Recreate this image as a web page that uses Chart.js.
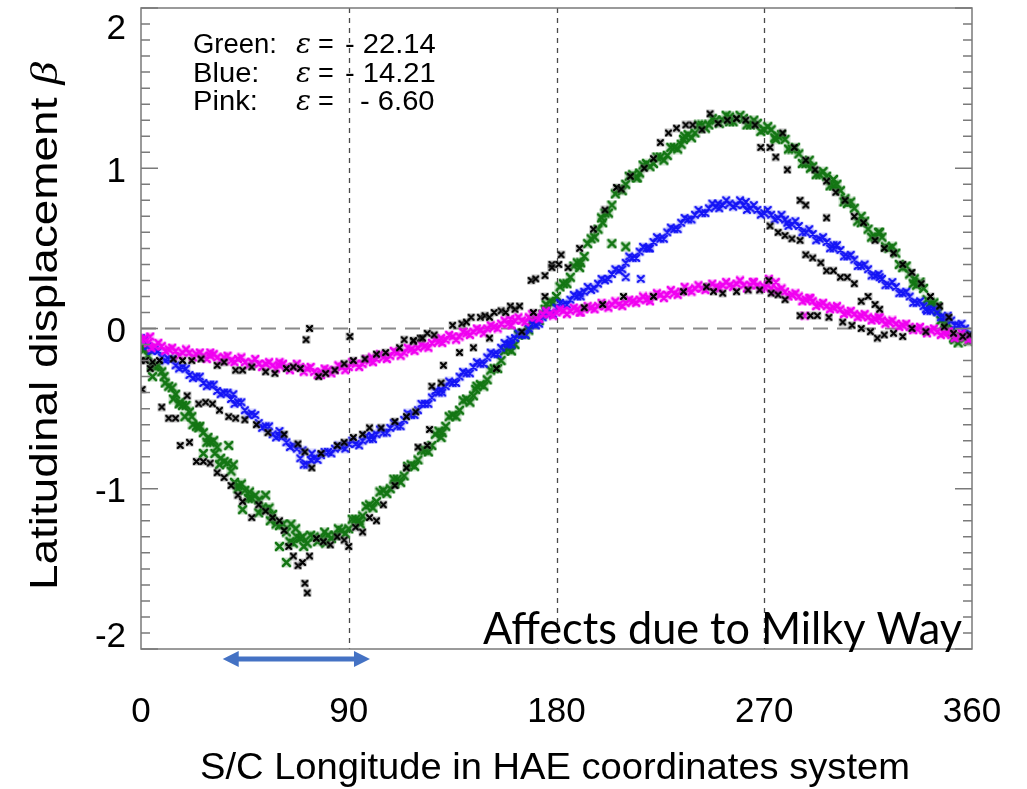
<!DOCTYPE html>
<html>
<head>
<meta charset="utf-8">
<script src="https://cdn.jsdelivr.net/npm/chart.js@4.4.0/dist/chart.umd.min.js"></script>
<style>
  html, body { margin: 0; padding: 0; background: #fff; overflow: hidden; }
  canvas { display: block; }
</style>
</head>
<body>
<canvas id="chart" width="1027" height="789"></canvas>
<script>
// longitude samples shared by the three coloured series (deg)
const lonGrid = [0,3,6,9,12,15,18,21,24,27,30,33,36,39,42,45,48,51,54,57,60,63,66,69,72,75,78,81,84,87,
  90,93,96,99,102,105,108,111,114,117,120,123,126,129,132,135,138,141,144,147,150,153,156,159,162,165,168,171,174,177,
  180,183,186,189,192,195,198,201,204,207,210,213,216,219,222,225,228,231,234,237,240,243,246,249,252,255,258,261,264,267,
  270,273,276,279,282,285,288,291,294,297,300,303,306,309,312,315,318,321,324,327,330,333,336,339,342,345,348,351,354,357,360];

const greenLat = [-0.12,-0.17,-0.24,-0.27,-0.36,-0.41,-0.48,-0.52,-0.61,-0.65,
  -0.71,-0.74,-0.83,-0.89,-0.98,-1.01,-1.06,-1.07,-1.13,-1.16,
  -1.23,-1.27,-1.34,-1.31,-1.34,-1.30,-1.31,-1.29,-1.29,-1.26,
  -1.25,-1.19,-1.17,-1.10,-1.08,-1.01,-1.00,-0.94,-0.92,-0.85,
  -0.82,-0.76,-0.73,-0.64,-0.61,-0.54,-0.51,-0.44,-0.42,-0.35,
  -0.32,-0.25,-0.20,-0.13,-0.10,-0.03,-0.01,0.06,0.09,0.17,
  0.20,0.28,0.32,0.41,0.45,0.56,0.62,0.72,0.77,0.87,
  0.90,0.96,0.97,1.03,1.03,1.07,1.08,1.13,1.15,1.21,
  1.22,1.27,1.27,1.30,1.30,1.32,1.31,1.31,1.27,1.28,
  1.24,1.24,1.20,1.18,1.12,1.09,1.03,1.01,0.96,0.95,
  0.89,0.86,0.78,0.75,0.66,0.62,0.57,0.57,0.50,0.47,
  0.38,0.34,0.27,0.25,0.16,0.11,0.03,-0.02,-0.09,-0.06,
  -0.05];

const blueLat = [-0.06,-0.11,-0.13,-0.18,-0.19,-0.23,-0.24,-0.29,-0.30,-0.34,
  -0.35,-0.39,-0.40,-0.44,-0.46,-0.51,-0.53,-0.59,-0.61,-0.66,
  -0.67,-0.71,-0.73,-0.81,-0.85,-0.81,-0.79,-0.77,-0.75,-0.74,
  -0.72,-0.72,-0.70,-0.69,-0.66,-0.65,-0.62,-0.61,-0.57,-0.54,
  -0.51,-0.47,-0.43,-0.40,-0.36,-0.34,-0.30,-0.28,-0.24,-0.22,
  -0.18,-0.16,-0.12,-0.10,-0.06,-0.04,0.00,0.02,0.07,0.09,
  0.13,0.15,0.18,0.20,0.23,0.24,0.28,0.30,0.34,0.36,
  0.41,0.44,0.48,0.50,0.54,0.56,0.60,0.62,0.66,0.68,
  0.71,0.72,0.75,0.76,0.77,0.78,0.77,0.77,0.75,0.74,
  0.72,0.71,0.69,0.68,0.65,0.64,0.60,0.59,0.56,0.54,
  0.50,0.49,0.45,0.43,0.39,0.37,0.33,0.31,0.27,0.26,
  0.22,0.20,0.16,0.14,0.11,0.10,0.07,0.05,0.02,0.00,
  -0.04];

const pinkLat = [-0.07,-0.09,-0.11,-0.11,-0.13,-0.14,-0.15,-0.15,-0.16,-0.17,
  -0.17,-0.18,-0.18,-0.20,-0.19,-0.21,-0.21,-0.22,-0.22,-0.23,
  -0.23,-0.24,-0.24,-0.24,-0.25,-0.27,-0.27,-0.26,-0.26,-0.24,
  -0.24,-0.22,-0.22,-0.20,-0.19,-0.18,-0.17,-0.15,-0.15,-0.13,
  -0.12,-0.11,-0.09,-0.08,-0.07,-0.05,-0.05,-0.03,-0.02,-0.01,
  0.00,0.01,0.03,0.03,0.05,0.05,0.07,0.07,0.09,0.09,
  0.10,0.11,0.11,0.12,0.12,0.13,0.14,0.14,0.15,0.15,
  0.16,0.17,0.18,0.18,0.20,0.21,0.21,0.22,0.23,0.24,
  0.25,0.25,0.26,0.26,0.27,0.27,0.28,0.27,0.27,0.27,
  0.26,0.25,0.24,0.23,0.21,0.20,0.18,0.17,0.15,0.14,
  0.13,0.12,0.10,0.09,0.08,0.07,0.06,0.05,0.04,0.03,
  0.02,0.01,0.00,-0.01,-0.01,-0.02,-0.03,-0.04,-0.05,-0.05,
  -0.06];

// second pass of samples along each band [lon, lat]
const greenBand = [[1.5,-0.13],[4.5,-0.23],[7.5,-0.23],[10.5,-0.34],[13.5,-0.37],[16.5,-0.47],[19.5,-0.48],[22.5,-0.60],
  [25.5,-0.61],[28.5,-0.71],[31.5,-0.70],[34.5,-0.81],[37.5,-0.84],[40.5,-0.96],[43.5,-0.97],[46.5,-1.06],[49.5,-1.04],
  [52.5,-1.12],[55.5,-1.12],[58.5,-1.22],[61.5,-1.22],[64.5,-1.33],[67.5,-1.30],[70.5,-1.36],[73.5,-1.29],[76.5,-1.33],
  [79.5,-1.27],[82.5,-1.31],[85.5,-1.25],[88.5,-1.28],[91.5,-1.19],[94.5,-1.20],[97.5,-1.11],[100.5,-1.12],[103.5,-1.02],
  [106.5,-1.03],[109.5,-0.94],[112.5,-0.96],[115.5,-0.86],[118.5,-0.86],[121.5,-0.76],[124.5,-0.77],[127.5,-0.66],
  [130.5,-0.65],[133.5,-0.55],[136.5,-0.55],[139.5,-0.45],[142.5,-0.46],[145.5,-0.36],[148.5,-0.36],[151.5,-0.26],
  [154.5,-0.25],[157.5,-0.14],[160.5,-0.14],[163.5,-0.04],[166.5,-0.04],[169.5,0.05],[172.5,0.05],[175.5,0.15],
  [178.5,0.16],[181.5,0.26],[184.5,0.28],[187.5,0.39],[190.5,0.41],[193.5,0.53],[196.5,0.57],[199.5,0.69],[202.5,0.72],
  [205.5,0.84],[208.5,0.86],[211.5,0.95],[214.5,0.94],[217.5,1.02],[220.5,1.01],[223.5,1.07],[226.5,1.05],[229.5,1.13],
  [232.5,1.12],[235.5,1.20],[238.5,1.19],[241.5,1.27],[244.5,1.25],[247.5,1.31],[250.5,1.28],[253.5,1.33],[256.5,1.29],
  [259.5,1.33],[262.5,1.27],[265.5,1.30],[268.5,1.23],[271.5,1.26],[274.5,1.19],[277.5,1.21],[280.5,1.12],[283.5,1.13],
  [286.5,1.03],[289.5,1.05],[292.5,0.96],[295.5,0.98],[298.5,0.89],[301.5,0.90],[304.5,0.79],[307.5,0.79],[310.5,0.67],
  [313.5,0.67],[316.5,0.57],[319.5,0.60],[322.5,0.51],[325.5,0.51],[328.5,0.40],[331.5,0.39],[334.5,0.28],[337.5,0.29],
  [340.5,0.18],[343.5,0.16],[346.5,0.05],[349.5,0.03],[352.5,-0.07],[355.5,-0.05],[358.5,-0.08]];
const blueBand = [[1.5,-0.07],[4.5,-0.14],[7.5,-0.14],[10.5,-0.20],[13.5,-0.19],[16.5,-0.25],[19.5,-0.25],[22.5,-0.31],
  [25.5,-0.30],[28.5,-0.36],[31.5,-0.35],[34.5,-0.41],[37.5,-0.40],[40.5,-0.47],[43.5,-0.46],[46.5,-0.54],[49.5,-0.54],
  [52.5,-0.62],[55.5,-0.61],[58.5,-0.68],[61.5,-0.67],[64.5,-0.74],[67.5,-0.75],[70.5,-0.85],[73.5,-0.82],[76.5,-0.82],
  [79.5,-0.77],[82.5,-0.78],[85.5,-0.73],[88.5,-0.75],[91.5,-0.70],[94.5,-0.73],[97.5,-0.67],[100.5,-0.69],[103.5,-0.63],
  [106.5,-0.65],[109.5,-0.59],[112.5,-0.61],[115.5,-0.53],[118.5,-0.54],[121.5,-0.47],[124.5,-0.47],[127.5,-0.39],
  [130.5,-0.40],[133.5,-0.33],[136.5,-0.34],[139.5,-0.27],[142.5,-0.28],[145.5,-0.21],[148.5,-0.22],[151.5,-0.15],
  [154.5,-0.16],[157.5,-0.09],[160.5,-0.10],[163.5,-0.03],[166.5,-0.04],[169.5,0.03],[172.5,0.03],[175.5,0.10],
  [178.5,0.09],[181.5,0.16],[184.5,0.15],[187.5,0.21],[190.5,0.20],[193.5,0.26],[196.5,0.25],[199.5,0.31],[202.5,0.31],
  [205.5,0.37],[208.5,0.37],[211.5,0.45],[214.5,0.44],[217.5,0.51],[220.5,0.50],[223.5,0.57],[226.5,0.56],[229.5,0.63],
  [232.5,0.62],[235.5,0.69],[238.5,0.68],[241.5,0.74],[244.5,0.72],[247.5,0.78],[250.5,0.75],[253.5,0.80],[256.5,0.76],
  [259.5,0.80],[262.5,0.74],[265.5,0.77],[268.5,0.71],[271.5,0.74],[274.5,0.68],[277.5,0.71],[280.5,0.64],[283.5,0.67],
  [286.5,0.60],[289.5,0.62],[292.5,0.55],[295.5,0.57],[298.5,0.50],[301.5,0.52],[304.5,0.45],[307.5,0.46],[310.5,0.39],
  [313.5,0.40],[316.5,0.33],[319.5,0.34],[322.5,0.27],[325.5,0.29],[328.5,0.22],[331.5,0.23],[334.5,0.16],[337.5,0.17],
  [340.5,0.11],[343.5,0.12],[346.5,0.07],[349.5,0.08],[352.5,0.02],[355.5,0.03],[358.5,-0.04]];
const pinkBand = [[1.5,-0.06],[4.5,-0.12],[7.5,-0.09],[10.5,-0.14],[13.5,-0.12],[16.5,-0.17],[19.5,-0.13],[22.5,-0.18],
  [25.5,-0.15],[28.5,-0.19],[31.5,-0.16],[34.5,-0.20],[37.5,-0.17],[40.5,-0.21],[43.5,-0.18],[46.5,-0.23],[49.5,-0.19],
  [52.5,-0.24],[55.5,-0.21],[58.5,-0.25],[61.5,-0.22],[64.5,-0.26],[67.5,-0.22],[70.5,-0.27],[73.5,-0.24],[76.5,-0.29],
  [79.5,-0.25],[82.5,-0.28],[85.5,-0.23],[88.5,-0.26],[91.5,-0.21],[94.5,-0.24],[97.5,-0.19],[100.5,-0.21],[103.5,-0.16],
  [106.5,-0.19],[109.5,-0.14],[112.5,-0.17],[115.5,-0.12],[118.5,-0.14],[121.5,-0.10],[124.5,-0.12],[127.5,-0.07],
  [130.5,-0.09],[133.5,-0.04],[136.5,-0.07],[139.5,-0.02],[142.5,-0.04],[145.5,0.00],[148.5,-0.03],[151.5,0.02],
  [154.5,0.00],[157.5,0.05],[160.5,0.02],[163.5,0.07],[166.5,0.04],[169.5,0.09],[172.5,0.06],[175.5,0.11],[178.5,0.08],
  [181.5,0.12],[184.5,0.09],[187.5,0.13],[190.5,0.10],[193.5,0.14],[196.5,0.12],[199.5,0.16],[202.5,0.13],[205.5,0.17],
  [208.5,0.14],[211.5,0.18],[214.5,0.16],[217.5,0.20],[220.5,0.17],[223.5,0.22],[226.5,0.19],[229.5,0.24],[232.5,0.21],
  [235.5,0.26],[238.5,0.23],[241.5,0.27],[244.5,0.24],[247.5,0.28],[250.5,0.25],[253.5,0.29],[256.5,0.26],[259.5,0.30],
  [262.5,0.25],[265.5,0.29],[268.5,0.25],[271.5,0.27],[274.5,0.23],[277.5,0.25],[280.5,0.20],[283.5,0.22],[286.5,0.17],
  [289.5,0.19],[292.5,0.14],[295.5,0.16],[298.5,0.12],[301.5,0.14],[304.5,0.09],[307.5,0.11],[310.5,0.07],[313.5,0.09],
  [316.5,0.05],[319.5,0.07],[322.5,0.03],[325.5,0.05],[328.5,0.01],[331.5,0.03],[334.5,-0.01],[337.5,0.01],[340.5,-0.03],
  [343.5,0.00],[346.5,-0.04],[349.5,-0.02],[352.5,-0.06],[355.5,-0.03],[358.5,-0.07]];

// scattered extra samples [lon, lat]
const greenExtra = [[5,-0.30],[10,-0.30],[14,-0.44],[17,-0.46],[19,-0.55],[22,-0.55],[25,-0.62],[27,-0.78],[29,-0.68],
  [32,-0.78],[34,-0.85],[38,-0.73],[40,-0.85],[42,-1.00],[44,-1.13],[47,-1.02],[51,-1.15],[54,-1.04],[56,-1.20],
  [60,-1.36],[63,-1.46],[65,-1.22],[67,-1.25],[70,-1.30],[80,-1.34],[95,-1.22],[110,-0.97],[130,-0.68],[145,-0.38],
  [160,-0.10],[175,0.12],[190,0.38],[200,0.66],[204,0.53],[210,0.51],[215,0.94],[235,1.18],[255,1.29],[275,1.18],
  [290,1.00],[300,0.93],[305,0.81],[312,0.70],[320,0.60],[335,0.31],[345,0.14],[352,-0.06]];
const blueExtra = [[40,-0.41],[60,-0.64],[70,-0.76],[74,-0.78],[100,-0.67],[130,-0.38],[160,-0.07],[190,0.22],
  [210,0.32],[216.5,0.31],[220,0.50],[250,0.78],[262,0.79],[280,0.66],[300,0.52],[320,0.32],[340,0.12]];
const pinkExtra = [[4,-0.05],[30,-0.15],[60,-0.21],[78,-0.29],[100,-0.18],[130,-0.06],[160,0.06],[190,0.10],
  [220,0.19],[250,0.25],[265,0.29],[272,0.31],[275,0.29],[287.5,0.08],[290,0.19],[320,0.07],[350,-0.02]];

// black samples [lon, lat]
const blackPts = [
  [2,-0.20],[5,-0.21],[8,-0.20],[14,-0.19],[18,-0.20],[22,-0.20],[26,-0.19],[33,-0.23],[36,-0.21],[41,-0.26],
  [44,-0.26],[48,-0.24],[54,-0.27],[58,-0.28],[63,-0.25],[66,-0.24],[69,-0.25],[77,-0.30],[80,-0.28],[84,-0.26],
  [88,-0.22],[92,-0.20],[97,-0.19],[102,-0.16],[106,-0.15],[112,-0.12],[118,-0.08],[121,-0.06],[124,-0.03],
  [71.5,-0.07],[73,0.00],[90.5,-0.05],
  [0,-0.20],[0.5,-0.38],[4,-0.25],[9,-0.49],[12,-0.56],[15,-0.56],[17,-0.73],[21,-0.71],[24,-0.83],[27,-0.83],
  [30,-0.84],[33,-0.90],[36,-0.93],[39,-0.98],[42,-1.04],[44,-1.08],[48,-1.18],[51,-1.10],[54,-1.14],[57,-1.18],
  [60,-1.20],[62,-1.26],[64,-1.36],[66,-1.42],[68,-1.48],[70,-1.46],[71,-1.59],[72,-1.65],[73,-1.42],[76,-1.31],
  [79,-1.33],[82,-1.35],[85,-1.30],[88,-1.32],[90,-1.36],[93,-1.24],[96,-1.27],[99,-1.18],[102,-1.20],[105,-1.10],
  [110,-0.98],[115,-0.87],[120,-0.74],[124,-0.73],
  [20,-0.42],[25,-0.47],[28,-0.46],[31,-0.47],[34,-0.51],[38,-0.55],[41,-0.56],[45,-0.57],[50,-0.60],[55,-0.65],
  [62,-0.66],[68,-0.72],[71,-0.77],[74,-0.87],[78,-0.78],[85,-0.73],[88,-0.71],[92,-0.68],[96,-0.66],[99,-0.62],
  [104,-0.62],[110,-0.58],[115,-0.55],[119,-0.52],[126,-0.36],[130,-0.34],[125,-0.63],
  [114,-0.07],[118,-0.075],[122,-0.06],[127,-0.04],[131,-0.23],[135,0.02],[138,-0.15],[139,0.03],[141,0.04],
  [143,0.07],[144,-0.12],[147,0.07],[149,0.08],[151,-0.06],[151,0.07],[153,0.10],[154,-0.25],[156,0.11],[158,0.10],
  [160,0.14],[162,0.12],[164,0.14],[165,-0.02],[169,0.30],[170,0.10],[171,0.31],[175,0.33],[175,0.20],[178,0.40],
  [182,0.46],
  [178,0.38],[181,0.40],[185,0.38],[190,0.50],[196,0.62],[201,0.74],[206,0.88],[208,0.87],[212,0.95],[218,1.00],
  [222,1.06],[225,1.16],[228.5,1.22],[232,1.25],[236,1.27],[239,1.27],[243,1.24],[246.5,1.34],[250,1.28],[254,1.30],
  [258,1.31],[262,1.30],[266,1.27],[268.5,1.13],[272.5,1.13],[275,1.07],[278,1.22],[280,0.99],[283,1.13],
  [285.5,0.80],[288,0.77],[288,1.05],[292,0.99],[297,0.69],[297,0.92],[301,0.85],[305,0.80],[309,0.70],[313,0.66],
  [318,0.55],[322,0.50],[326,0.47],[330,0.40],[334,0.35],[338,0.28],[342,0.20],[346,0.14],[350,0.07],
  [272.5,0.64],[276,0.60],[279,0.58],[282,0.56],[285.5,0.55],[288,0.46],[291,0.44],[294.5,0.41],[297,0.36],
  [300,0.36],[303,0.32],[306,0.32],[309,0.28],[312,0.17],[315,0.20],[318,0.15],[320,0.12],
  [192,0.13],[200,0.15],[209,0.20],[222,0.20],[235,0.23],[245,0.26],[248,0.23],[252,0.22],[258,0.23],[263,0.24],
  [268,0.24],[272,0.30],[273,0.22],[276,0.21],[279,0.18],[285.5,0.08],[290,0.08],[293,0.08],[298,0.07],[304,0.04],
  [308,0.02],[312,0.00],[316,-0.02],[319,-0.06],[322,-0.04],[326,-0.03],[330,-0.05],[334,0.00],[340,-0.02],
  [348,0.01],[352,-0.03],[356,-0.05],[359,-0.04]
];

const xTicks = [0, 90, 180, 270, 360];
const yTicks = [-2, -1, 0, 1, 2];
const gridLons = [90, 180, 270];
const legendRows = [
  { name: 'Green:', value: '- 22.14' },
  { name: 'Blue:', value: '- 14.21' },
  { name: 'Pink:', value: '- 6.60' },
];
const arrowSpan = [35.4, 99.2];

const SANS = '"Liberation Sans", Arial, Helvetica, sans-serif';

function gridPoints(lats) {
  return lonGrid.map((x, i) => ({ x, y: lats[i] }));
}
function pairPoints(list) {
  return list.map(([x, y]) => ({ x, y }));
}

function makeMarker(color, halo, size, lw) {
  const c = document.createElement('canvas');
  c.width = size;
  c.height = size;
  const g = c.getContext('2d');
  if (halo) {
    g.fillStyle = halo;
    g.fillRect(0.5, 0.5, size - 1, size - 1);
  }
  g.strokeStyle = color;
  g.lineWidth = lw;
  g.lineCap = 'round';
  g.beginPath();
  g.moveTo(2, 2);
  g.lineTo(size - 2, size - 2);
  g.moveTo(size - 2, 2);
  g.lineTo(2, size - 2);
  g.stroke();
  return c;
}

const blackMark = makeMarker('#000', 'rgba(120,120,120,0.45)', 9, 2.3);
const greenMark = makeMarker('rgb(20,118,20)', 'rgba(20,118,20,0.2)', 11, 2.6);
const blueMark = makeMarker('rgb(20,20,245)', 'rgba(20,20,245,0.18)', 10, 2.4);
const pinkMark = makeMarker('rgb(240,0,240)', 'rgba(240,0,240,0.2)', 10, 2.6);

// draw text horizontally stretched/squeezed to a target width
function fitText(ctx, text, x, y, width) {
  const w = ctx.measureText(text).width;
  ctx.save();
  ctx.translate(x, y);
  ctx.scale(width / w, 1);
  ctx.fillText(text, 0, 0);
  ctx.restore();
}

const framePlugin = {
  id: 'frame',
  beforeDatasetsDraw(chart) {
    const { ctx, chartArea: a, scales: { x, y } } = chart;
    ctx.save();
    ctx.strokeStyle = '#4a4a4a';
    ctx.lineWidth = 1.3;
    ctx.setLineDash([5, 5]);
    gridLons.forEach((v) => {
      const px = Math.round(x.getPixelForValue(v)) + 0.5;
      ctx.beginPath();
      ctx.moveTo(px, a.top);
      ctx.lineTo(px, a.bottom);
      ctx.stroke();
    });
    ctx.strokeStyle = '#8a8a8a';
    ctx.lineWidth = 2;
    ctx.setLineDash([15, 9]);
    const py0 = y.getPixelForValue(0);
    ctx.beginPath();
    ctx.moveTo(a.left, py0);
    ctx.lineTo(a.right, py0);
    ctx.stroke();
    ctx.restore();
  },
  afterDraw(chart) {
    const { ctx, chartArea: a, scales: { x, y } } = chart;
    ctx.save();
    // box and minor ticks
    ctx.strokeStyle = '#7a7a7a';
    ctx.lineWidth = 1.5;
    ctx.strokeRect(a.left, a.top, a.right - a.left, a.bottom - a.top);
    for (let k = -20; k <= 20; k++) {
      const py = y.getPixelForValue(k / 10);
      const len = k % 10 === 0 ? 17 : 9;
      ctx.beginPath();
      ctx.moveTo(a.left, py);
      ctx.lineTo(a.left + len, py);
      ctx.moveTo(a.right, py);
      ctx.lineTo(a.right - len, py);
      ctx.stroke();
    }

    // tick labels
    ctx.fillStyle = '#000';
    ctx.font = '35px ' + SANS;
    ctx.textAlign = 'right';
    ctx.textBaseline = 'middle';
    yTicks.forEach((v) => {
      let py = y.getPixelForValue(v) + 4;
      py = Math.max(a.top + 21, Math.min(a.bottom - 12, py));
      ctx.fillText(v < 0 ? '-' + Math.abs(v) : String(v), 126, py);
    });
    ctx.textAlign = 'center';
    xTicks.forEach((v) => {
      ctx.fillText(String(v), x.getPixelForValue(v), 712);
    });

    // axis titles
    ctx.textBaseline = 'alphabetic';
    ctx.textAlign = 'left';
    ctx.font = '37px ' + SANS;
    fitText(ctx, 'S/C Longitude in HAE coordinates system', 200, 779, 710);

    ctx.save();
    ctx.translate(57, 326);
    ctx.rotate(-Math.PI / 2);
    ctx.font = '38px ' + SANS;
    const t1 = 'Latitudinal displacement ';
    const w1 = ctx.measureText(t1).width;
    ctx.font = 'italic 38px "Liberation Serif", serif';
    const wb = ctx.measureText('\u03b2').width;
    const total = 528;
    const k = total / (w1 + wb);
    ctx.scale(k, 1);
    ctx.font = '38px ' + SANS;
    ctx.fillText(t1, -(w1 + wb) / 2, 0);
    ctx.font = 'italic 38px "Liberation Serif", serif';
    ctx.fillText('\u03b2', -(w1 + wb) / 2 + w1, 0);
    ctx.restore();

    // epsilon legend
    ctx.textAlign = 'left';
    legendRows.forEach((r, i) => {
      const by = 53 + i * 28.5;
      ctx.font = '27px ' + SANS;
      fitText(ctx, r.name, 193, by, r.name === 'Green:' ? 84 : ctx.measureText(r.name).width * 1.08);
      ctx.font = 'italic 28px "DejaVu Serif", serif';
      ctx.fillText('\u03b5', 296, by);
      ctx.font = '27px ' + SANS;
      ctx.fillText('=', 318, by);
      fitText(ctx, r.value, i === 2 ? 360 : 345, by, ctx.measureText(r.value).width * 1.08);
    });

    // annotation
    ctx.font = '45px Lato, "Open Sans", sans-serif';
    fitText(ctx, 'Affects due to Milky Way', 483, 644, 479);

    // double arrow
    const ax1 = x.getPixelForValue(arrowSpan[0]);
    const ax2 = x.getPixelForValue(arrowSpan[1]);
    const ay = 659;
    ctx.fillStyle = '#4472c4';
    ctx.beginPath();
    ctx.moveTo(ax1, ay);
    ctx.lineTo(ax1 + 16, ay - 8);
    ctx.lineTo(ax1 + 16, ay - 2.5);
    ctx.lineTo(ax2 - 16, ay - 2.5);
    ctx.lineTo(ax2 - 16, ay - 8);
    ctx.lineTo(ax2, ay);
    ctx.lineTo(ax2 - 16, ay + 8);
    ctx.lineTo(ax2 - 16, ay + 2.5);
    ctx.lineTo(ax1 + 16, ay + 2.5);
    ctx.lineTo(ax1 + 16, ay + 8);
    ctx.closePath();
    ctx.fill();
    ctx.restore();
  },
};

new Chart(document.getElementById('chart'), {
  type: 'scatter',
  data: {
    datasets: [
      { label: 'black', data: pairPoints(blackPts), pointStyle: blackMark, pointRadius: 4 },
      { label: 'pink', data: gridPoints(pinkLat).concat(pairPoints(pinkBand), pairPoints(pinkExtra)),
        pointStyle: pinkMark, pointRadius: 4 },
      { label: 'blue', data: gridPoints(blueLat).concat(pairPoints(blueBand), pairPoints(blueExtra)),
        pointStyle: blueMark, pointRadius: 4 },
      { label: 'green', data: gridPoints(greenLat).concat(pairPoints(greenBand), pairPoints(greenExtra)),
        pointStyle: greenMark, pointRadius: 4 },
    ],
  },
  options: {
    responsive: false,
    animation: false,
    devicePixelRatio: 1,
    layout: { padding: { left: 141, right: 55, top: 8, bottom: 140 } },
    plugins: { legend: { display: false }, tooltip: { enabled: false } },
    scales: {
      x: { type: 'linear', min: 0, max: 360, display: false },
      y: { type: 'linear', min: -2, max: 2, display: false },
    },
  },
  plugins: [framePlugin],
});
</script>
</body>
</html>
